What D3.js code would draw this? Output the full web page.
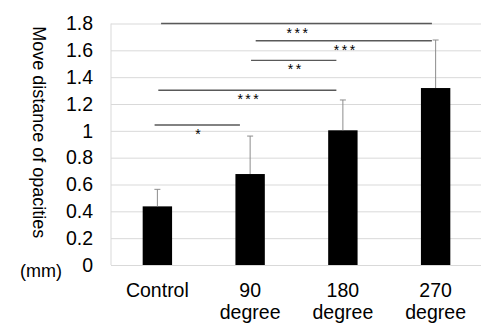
<!DOCTYPE html>
<html>
<head>
<meta charset="utf-8">
<script src="https://cdn.jsdelivr.net/npm/d3@7"></script>
<style>
	body { margin: 0; background: #fff; }
	svg { display: block; }
	text { font-family: 'Liberation Sans', Arial, sans-serif; }
</style>
</head>
<body>
<svg></svg>
<script>
const categories = ['Control', '90 degree', '180 degree', '270 degree'];
const means = [0.437, 0.678, 1.004, 1.319];
const errors = [0.127, 0.283, 0.226, 0.358];
const yTicks = [0, 0.2, 0.4, 0.6, 0.8, 1, 1.2, 1.4, 1.6, 1.8];

// significance brackets: height in data units, ends in category-index units
const sigLevels = [1.8, 1.671, 1.525, 1.302, 1.043];
const sigFrom = [0.04, 1.06, 1.01, 0.01, -0.03];
const sigTo = [2.96, 2.96, 1.93, 1.93, 0.89];
const sigLabels = ['***', '***', '**', '***', '*'];

const svg = d3.select('svg')
	.attr('width', 481)
	.attr('height', 327);

const margin = { top: 23.5, right: -1, bottom: 62, left: 111 },
	width = +svg.attr('width'),
	height = +svg.attr('height'),
	innerWidth = width - margin.left - margin.right,
	innerHeight = height - margin.top - margin.bottom;

const g = svg.append('g')
	.attr('transform', `translate(${margin.left}, ${margin.top})`);

const xScale = d3.scaleBand()
	.domain(categories)
	.range([0, innerWidth])
	.paddingInner(0.683)
	.paddingOuter(0.3415);

const yScale = d3.scaleLinear()
	.domain([0, 1.8])
	.range([innerHeight, 0]);

// index -> bar centre, for the brackets
const idxScale = d3.scaleLinear()
	.domain([0, categories.length - 1])
	.range([xScale(categories[0]) + xScale.bandwidth() / 2,
		xScale(categories[categories.length - 1]) + xScale.bandwidth() / 2]);

const yAxis = d3.axisLeft(yScale)
	.tickValues(yTicks)
	.tickSize(-innerWidth)
	.tickPadding(18)
	.tickFormat(d => String(+d.toFixed(1)));

const yAxisG = g.append('g').call(yAxis);
yAxisG.select('.domain').remove();
yAxisG.selectAll('.tick line')
	.attr('stroke', '#d9d9d9');
yAxisG.selectAll('.tick text')
	.attr('font-size', 19.5)
	.attr('fill', '#000');

g.append('line')
	.attr('x1', 0).attr('x2', 0)
	.attr('y1', 0).attr('y2', innerHeight)
	.attr('stroke', '#d9d9d9');

yAxisG.append('text')
	.attr('transform', 'rotate(90)')
	.attr('x', innerHeight / 2 - 12)
	.attr('y', 78)
	.attr('text-anchor', 'middle')
	.attr('font-size', 18)
	.attr('fill', '#000')
	.text('Move distance of opacities');

yAxisG.append('text')
	.attr('x', -70)
	.attr('y', innerHeight + 12)
	.attr('text-anchor', 'middle')
	.attr('font-size', 18)
	.attr('fill', '#000')
	.text('(mm)');

// x labels (two lines)
const xAxis = d3.axisBottom(xScale).tickSize(0).tickPadding(0);
const xAxisG = g.append('g')
	.attr('transform', `translate(0, ${innerHeight})`)
	.call(xAxis);
xAxisG.select('.domain').remove();
xAxisG.selectAll('.tick text').remove();
xAxisG.selectAll('.tick').append('text')
	.attr('text-anchor', 'middle')
	.attr('font-size', 19.5)
	.attr('fill', '#000')
	.selectAll('tspan')
	.data(d => d.split(' '))
	.join('tspan')
	.attr('x', 0)
	.attr('y', (d, i) => 32 + i * 22)
	.text(d => d);

// bars
g.selectAll('.bar')
	.data(categories)
	.join('rect')
	.attr('class', 'bar')
	.attr('x', d => xScale(d))
	.attr('width', xScale.bandwidth())
	.attr('y', (d, i) => yScale(means[i]))
	.attr('height', (d, i) => innerHeight - yScale(means[i]))
	.attr('fill', '#000');

// error bars (upper only)
const err = g.selectAll('.err')
	.data(categories)
	.join('g')
	.attr('class', 'err')
	.attr('stroke', '#8c8c8c')
	.attr('stroke-width', 1);

err.append('line')
	.attr('x1', d => xScale(d) + xScale.bandwidth() / 2)
	.attr('x2', d => xScale(d) + xScale.bandwidth() / 2)
	.attr('y1', (d, i) => yScale(means[i]))
	.attr('y2', (d, i) => yScale(means[i] + errors[i]));

err.append('line')
	.attr('x1', d => xScale(d) + xScale.bandwidth() / 2 - 3)
	.attr('x2', d => xScale(d) + xScale.bandwidth() / 2 + 3)
	.attr('y1', (d, i) => yScale(means[i] + errors[i]))
	.attr('y2', (d, i) => yScale(means[i] + errors[i]));

// significance lines
const sig = g.selectAll('.sig')
	.data(sigLabels)
	.join('g')
	.attr('class', 'sig');

sig.append('line')
	.attr('x1', (d, i) => idxScale(sigFrom[i]))
	.attr('x2', (d, i) => idxScale(sigTo[i]))
	.attr('y1', (d, i) => yScale(sigLevels[i]))
	.attr('y2', (d, i) => yScale(sigLevels[i]))
	.attr('stroke', '#595959')
	.attr('stroke-width', 1.4);

sig.append('text')
	.attr('x', (d, i) => (idxScale(sigFrom[i]) + idxScale(sigTo[i])) / 2 + 2)
	.attr('y', (d, i) => yScale(sigLevels[i]) + 14)
	.attr('text-anchor', 'middle')
	.attr('font-size', 14)
	.attr('letter-spacing', 2.5)
	.attr('fill', '#000')
	.text(d => d);
</script>
</body>
</html>
